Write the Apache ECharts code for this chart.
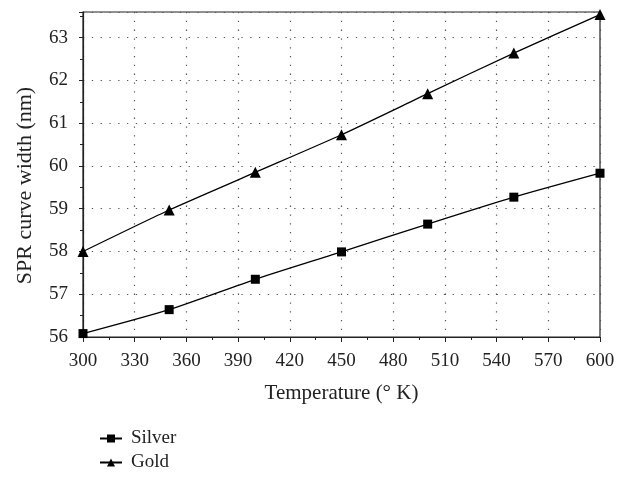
<!DOCTYPE html>
<html><head><meta charset="utf-8">
<script src="https://cdn.jsdelivr.net/npm/echarts@6/dist/echarts.min.js"></script>
<style>html,body{margin:0;padding:0;background:#fff}#c{width:629px;height:477px}</style>
</head><body><div id="c"></div>
<script>
const temperatures = [300, 350, 400, 450, 500, 550, 600];
const silver = [56.08, 56.64, 57.35, 57.99, 58.64, 59.27, 59.83];
const gold = [58.0, 58.97, 59.85, 60.73, 61.69, 62.64, 63.54];
const seriesNames = ['Silver', 'Gold'];
const xName = 'Temperature (° K)';
const yName = 'SPR curve width (nm)';

const font = 'Liberation Serif';
const chart = echarts.init(document.getElementById('c'));
const pairs = arr => temperatures.map((t, i) => [t, arr[i]]);
chart.setOption({
  animation: false,
  grid: {left: 83, right: 29, top: 12, bottom: 140, show: true, borderColor: '#222', borderWidth: 1.2,
    outerBoundsMode: 'none', containLabel: false},
  legend: {
    orient: 'vertical', left: 99, top: 429, padding: 0, itemWidth: 22, itemHeight: 10, itemGap: 5,
    textStyle: {fontFamily: font, fontSize: 19, color: '#222', padding: [0, 0, 0, 4]},
    data: seriesNames
  },
  xAxis: {
    type: 'value', min: 300, max: 600, interval: 30,
    name: xName, nameLocation: 'middle', nameGap: 46,
    nameTextStyle: {fontFamily: font, fontSize: 21, color: '#222'},
    axisLine: {lineStyle: {color: '#222', width: 1.2}},
    axisTick: {show: true, length: 5, lineStyle: {color: '#222'}},
    minorTick: {show: true, splitNumber: 2, length: 3, lineStyle: {color: '#222'}},
    axisLabel: {fontFamily: font, fontSize: 19, color: '#222', margin: 15},
    splitLine: {show: true, lineStyle: {color: '#555', type: [1.3, 7.5], width: 1.2}}
  },
  yAxis: {
    type: 'value', min: 56, max: 63.6, interval: 1,
    name: yName, nameLocation: 'middle', nameGap: 47,
    nameTextStyle: {fontFamily: font, fontSize: 22, color: '#222', padding: [0, 22, 0, 0]},
    axisLine: {show: true, lineStyle: {color: '#222', width: 1.2}},
    axisTick: {show: true, length: 4, lineStyle: {color: '#222'}},
    minorTick: {show: true, splitNumber: 2, length: 3, lineStyle: {color: '#222'}},
    axisLabel: {fontFamily: font, fontSize: 19, color: '#222', margin: 15, showMaxLabel: false,
      formatter: v => Number.isInteger(v) ? String(v) : ''},
    splitLine: {show: true, lineStyle: {color: '#555', type: [1.3, 7.5], width: 1.2}}
  },
  series: [
    {name: seriesNames[0], type: 'line', data: pairs(silver), smooth: 0.2,
      symbol: 'rect', symbolSize: 9, itemStyle: {color: '#000'}, lineStyle: {color: '#000', width: 1.3}},
    {name: seriesNames[1], type: 'line', data: pairs(gold), smooth: 0.2,
      symbol: 'triangle', symbolSize: 11, itemStyle: {color: '#000'}, lineStyle: {color: '#000', width: 1.3}}
  ]
});
</script></body></html>
